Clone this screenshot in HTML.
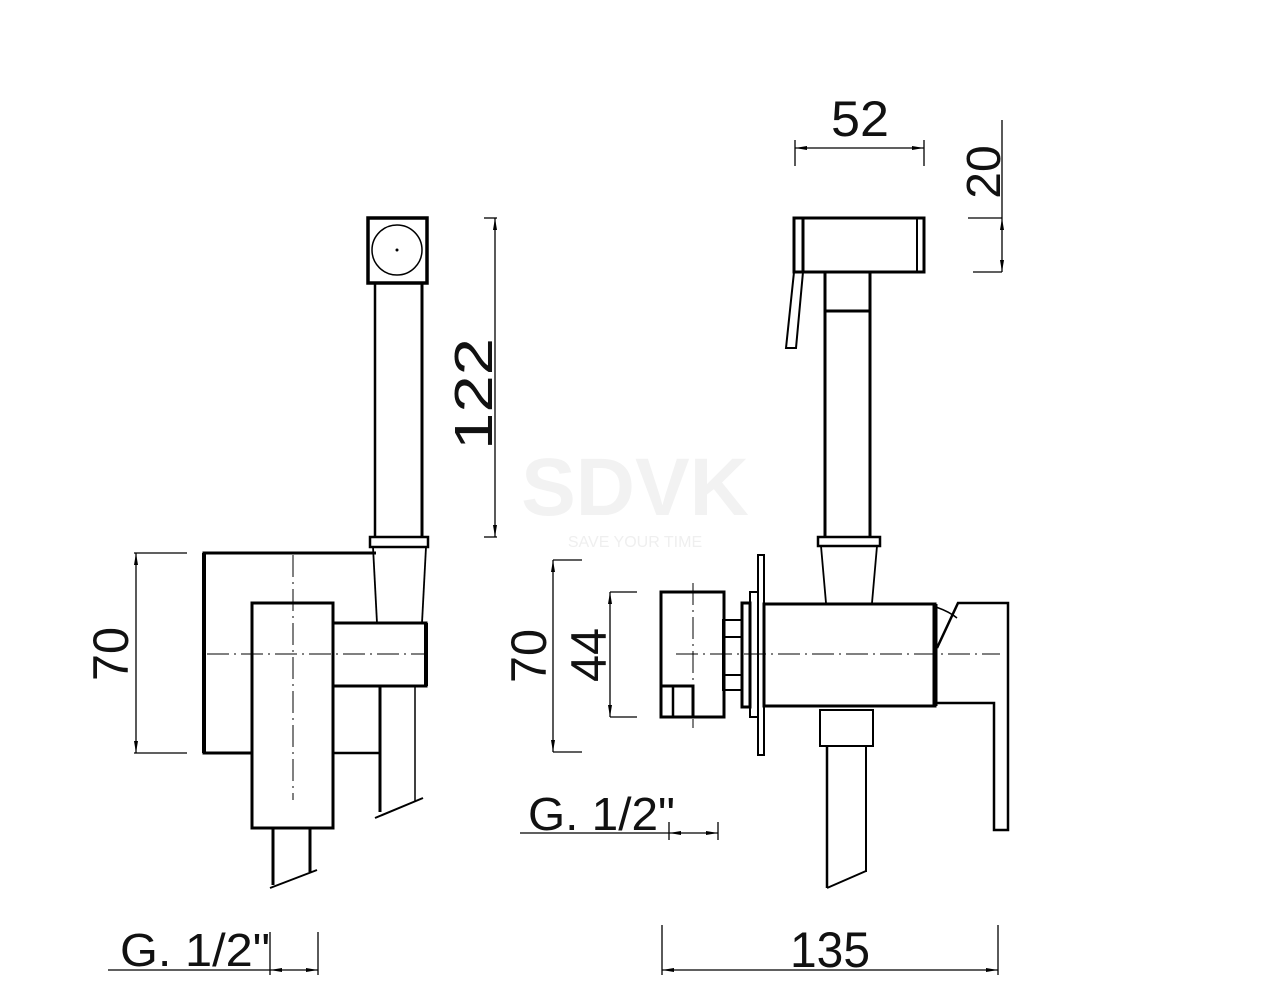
<!DOCTYPE html>
<html><head><meta charset="utf-8"><style>
html,body{margin:0;padding:0;background:#fff;}
svg{display:block;}
text{font-family:"Liberation Sans",sans-serif;fill:#111;}
</style></head><body>
<svg width="1280" height="1004" viewBox="0 0 1280 1004" xmlns="http://www.w3.org/2000/svg">
<rect width="1280" height="1004" fill="#fff"/>
<!-- watermark -->
<text x="635" y="515" text-anchor="middle" font-size="82" font-weight="bold" style="fill:#f2f2f2">SDVK</text>
<text x="635" y="547" text-anchor="middle" font-size="16" style="fill:#efefef">SAVE YOUR TIME</text>

<g stroke="#000" fill="none" stroke-width="2.5">
<!-- LEFT VIEW -->
<rect x="368" y="218" width="59" height="65" stroke-width="3.5"/>
<circle cx="397" cy="250" r="25" stroke-width="1.5"/>
<circle cx="397" cy="250" r="1.5" fill="#000" stroke="none"/>
<line x1="375" y1="283" x2="375" y2="537"/>
<line x1="422" y1="283" x2="422" y2="537" stroke-width="3"/>
<rect x="370" y="537" width="58" height="10"/>
<line x1="373" y1="547" x2="377" y2="623" stroke-width="1.8"/>
<line x1="426" y1="547" x2="422" y2="623" stroke-width="1.8"/>
<polyline points="376,553 204,553 204,753 252,753" stroke-width="3"/>
<line x1="204" y1="553" x2="204" y2="753" stroke-width="4"/>
<line x1="333" y1="753" x2="380" y2="753"/>
<rect x="252" y="603" width="81" height="225" stroke-width="3"/>
<rect x="333" y="623" width="93" height="63" stroke-width="3"/>
<line x1="426" y1="623" x2="426" y2="686" stroke-width="4"/>
<line x1="380" y1="686" x2="380" y2="812" stroke-width="3"/>
<line x1="415" y1="686" x2="415" y2="802" stroke-width="1.5"/>
<line x1="375" y1="818" x2="423" y2="798" stroke-width="2"/>
<line x1="273" y1="828" x2="273" y2="885" stroke-width="3"/>
<line x1="310" y1="828" x2="310" y2="872" stroke-width="3"/>
<line x1="270" y1="888" x2="317" y2="870" stroke-width="2"/>
<g stroke-width="1" stroke-dasharray="22,5,2,5">
<line x1="207" y1="654" x2="425" y2="654"/>
<line x1="293" y1="555" x2="293" y2="800"/>
</g>
<g stroke-width="1.3">
<line x1="495" y1="218" x2="495" y2="537"/>
<line x1="484" y1="218" x2="497" y2="218"/>
<line x1="484" y1="537" x2="497" y2="537"/>
<line x1="136" y1="553" x2="136" y2="753"/>
<line x1="134" y1="553" x2="187" y2="553"/>
<line x1="134" y1="753" x2="187" y2="753"/>
<line x1="108" y1="970" x2="318" y2="970"/>
<line x1="270" y1="932" x2="270" y2="975"/>
<line x1="318" y1="932" x2="318" y2="975"/>
</g>
<g fill="#000" stroke="none">
<polygon points="495,218 493,230 497,230"/><polygon points="495,537 493,525 497,525"/>
<polygon points="136,553 134,565 138,565"/><polygon points="136,753 134,741 138,741"/>
<polygon points="270,970 282,968 282,972"/><polygon points="318,970 306,968 306,972"/>
</g>

<!-- RIGHT VIEW -->
<rect x="794" y="218" width="130" height="54" stroke-width="3"/>
<line x1="803" y1="218" x2="803" y2="272" stroke-width="3"/>
<line x1="917" y1="218" x2="917" y2="272" stroke-width="2"/>
<polygon points="794,272 803,272 796,348 786,348" stroke-width="2"/>
<line x1="825" y1="272" x2="825" y2="537" stroke-width="3"/>
<line x1="870" y1="272" x2="870" y2="537" stroke-width="3"/>
<line x1="825" y1="311" x2="870" y2="311" stroke-width="3"/>
<rect x="818" y="537" width="62" height="9"/>
<line x1="821" y1="546" x2="826" y2="603" stroke-width="1.8"/>
<line x1="877" y1="546" x2="872" y2="603" stroke-width="1.8"/>
<rect x="764" y="604" width="171" height="102" stroke-width="3"/>
<line x1="935" y1="604" x2="935" y2="706" stroke-width="5"/>
<rect x="758" y="555" width="6" height="200" stroke-width="2"/>
<rect x="750" y="592" width="8" height="125" stroke-width="2"/>
<rect x="742" y="603" width="8" height="104" stroke-width="3"/>
<rect x="723" y="620" width="19" height="70" stroke-width="2"/>
<line x1="723" y1="637" x2="742" y2="637" stroke-width="2"/>
<line x1="723" y1="675" x2="742" y2="675" stroke-width="2"/>
<rect x="661" y="592" width="63" height="125" stroke-width="3"/>
<rect x="661" y="686" width="32" height="31" stroke-width="3"/>
<line x1="673" y1="686" x2="673" y2="717" stroke-width="2.5"/>
<polyline points="937,648 958,603 1008,603 1008,830 994,830 994,703 937,703" stroke-width="2.5"/>
<path d="M936,607 Q950,612 957,618" stroke-width="1.5"/>
<rect x="820" y="710" width="53" height="36" stroke-width="2"/>
<line x1="827" y1="746" x2="827" y2="888" stroke-width="2.5"/>
<line x1="866" y1="746" x2="866" y2="872" stroke-width="2"/>
<line x1="827" y1="888" x2="866" y2="871" stroke-width="2"/>
<g stroke-width="1" stroke-dasharray="22,5,2,5">
<line x1="676" y1="654" x2="1000" y2="654"/>
<line x1="693" y1="583" x2="693" y2="728"/>
</g>
<g stroke-width="1.3">
<line x1="795" y1="148" x2="924" y2="148"/>
<line x1="795" y1="140" x2="795" y2="166"/>
<line x1="924" y1="140" x2="924" y2="166"/>
<line x1="1002" y1="120" x2="1002" y2="272"/>
<line x1="968" y1="218" x2="1002" y2="218"/>
<line x1="973" y1="272" x2="1002" y2="272"/>
<line x1="553" y1="560" x2="553" y2="752"/>
<line x1="553" y1="560" x2="582" y2="560"/>
<line x1="553" y1="752" x2="582" y2="752"/>
<line x1="610" y1="592" x2="610" y2="717"/>
<line x1="610" y1="592" x2="637" y2="592"/>
<line x1="610" y1="717" x2="637" y2="717"/>
<line x1="520" y1="833" x2="718" y2="833"/>
<line x1="669" y1="822" x2="669" y2="840"/>
<line x1="718" y1="822" x2="718" y2="840"/>
<line x1="662" y1="970" x2="998" y2="970"/>
<line x1="662" y1="925" x2="662" y2="975"/>
<line x1="998" y1="925" x2="998" y2="975"/>
</g>
<g fill="#000" stroke="none">
<polygon points="795,148 807,146 807,150"/><polygon points="924,148 912,146 912,150"/>
<polygon points="1002,218 1000,230 1004,230"/><polygon points="1002,272 1000,260 1004,260"/>
<polygon points="553,560 551,572 555,572"/><polygon points="553,752 551,740 555,740"/>
<polygon points="610,592 608,604 612,604"/><polygon points="610,717 608,705 612,705"/>
<polygon points="669,833 681,831 681,835"/><polygon points="718,833 706,831 706,835"/>
<polygon points="662,970 674,968 674,972"/><polygon points="998,970 986,968 986,972"/>
</g>
</g>

<text x="831" y="136" font-size="50" textLength="58" lengthAdjust="spacingAndGlyphs">52</text>
<text transform="translate(1000,172) rotate(-90)" text-anchor="middle" font-size="48">20</text>
<text transform="translate(492,450) rotate(-90)" font-size="54" textLength="112" lengthAdjust="spacingAndGlyphs">122</text>
<text transform="translate(128,681) rotate(-90)" font-size="50" textLength="54" lengthAdjust="spacingAndGlyphs">70</text>
<text transform="translate(546,683) rotate(-90)" font-size="50" textLength="54" lengthAdjust="spacingAndGlyphs">70</text>
<text transform="translate(606,682) rotate(-90)" font-size="50" textLength="54" lengthAdjust="spacingAndGlyphs">44</text>
<text x="528" y="830" font-size="46" textLength="147" lengthAdjust="spacingAndGlyphs">G. 1/2"</text>
<text x="120" y="966" font-size="46" textLength="150" lengthAdjust="spacingAndGlyphs">G. 1/2"</text>
<text x="790" y="967" font-size="50" textLength="80" lengthAdjust="spacingAndGlyphs">135</text>
</svg>
</body></html>
